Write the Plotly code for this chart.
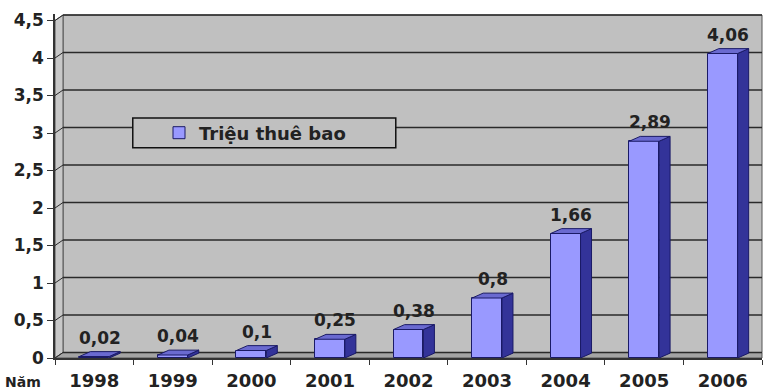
import plotly.graph_objects as go

# Mobile subscribers (millions) by year
years = ["1998", "1999", "2000", "2001", "2002", "2003", "2004", "2005", "2006"]
subscribers = [0.02, 0.04, 0.1, 0.25, 0.38, 0.8, 1.66, 2.89, 4.06]
y_ticks = [0, 0.5, 1, 1.5, 2, 2.5, 3, 3.5, 4, 4.5]
y_tick_text = ["0", "0,5", "1", "1,5", "2", "2,5", "3", "3,5", "4", "4,5"]
series_name = "Triệu thuê bao"
x_title = "Năm"

FONT = "DejaVu Sans"
INK = "#222222"
FRONT = "#9999FF"
SIDE = "#333399"
TOP = "#6A6AD0"
EDGE = "#1A1A66"
WALL = "#C0C0C0"
FLOOR = "#A4A4A4"

# pseudo-3D geometry (bar half width / depth in axis units, wall offset)
half = 0.19
depth_x = 0.14
depth_y = 0.065
wall_x = 8 / 707       # paper units
wall_y = 0.073         # y units
y_top = max(y_ticks)

pos = list(range(len(years)))


def fmt(v):
    return f"{v:g}".replace(".", ",")


fig = go.Figure()

# front faces
fig.add_trace(go.Bar(
    x=pos, y=subscribers, width=2 * half, name=series_name,
    marker=dict(color=FRONT, line=dict(color=EDGE, width=1)),
    showlegend=True,
))

# side and top faces
for i, v in zip(pos, subscribers):
    r = i + half
    l = i - half
    fig.add_trace(go.Scatter(
        x=[r, r + depth_x, r + depth_x, r, r],
        y=[0, depth_y, v + depth_y, v, 0],
        mode="lines", fill="toself", fillcolor=SIDE,
        line=dict(color=EDGE, width=1), showlegend=False, hoverinfo="skip",
    ))
    fig.add_trace(go.Scatter(
        x=[l, r, r + depth_x, l + depth_x, l],
        y=[v, v, v + depth_y, v + depth_y, v],
        mode="lines", fill="toself", fillcolor=TOP,
        line=dict(color=EDGE, width=1), showlegend=False, hoverinfo="skip",
    ))

shapes = []
# back wall
shapes.append(dict(type="rect", xref="paper", yref="y", x0=wall_x, x1=1,
                   y0=wall_y, y1=y_top + wall_y, fillcolor=WALL,
                   line=dict(color="#555555", width=1), layer="below"))
# left wall
shapes.append(dict(type="path", xref="paper", yref="y",
                   path=f"M 0,0 L {wall_x},{wall_y} L {wall_x},{y_top + wall_y} L 0,{y_top} Z",
                   fillcolor="#C8C8C8", line=dict(color="#555555", width=1), layer="below"))
# floor
shapes.append(dict(type="path", xref="paper", yref="y",
                   path=f"M 0,0 L {wall_x},{wall_y} L 1,{wall_y} L 1,0 Z",
                   fillcolor=FLOOR, line=dict(color="#555555", width=1), layer="below"))
# gridlines on the back wall plus their run across the left wall
for t in y_ticks:
    shapes.append(dict(type="line", xref="paper", yref="y", x0=wall_x, x1=1,
                       y0=t + wall_y, y1=t + wall_y,
                       line=dict(color="#2A2A2A", width=1.5), layer="below"))
    shapes.append(dict(type="line", xref="paper", yref="y", x0=0, x1=wall_x,
                       y0=t, y1=t + wall_y,
                       line=dict(color="#2A2A2A", width=1), layer="below"))
# legend frame
shapes.append(dict(type="rect", xref="paper", yref="paper", x0=0.110, x1=0.482,
                   y0=0.611, y1=0.698, fillcolor=WALL,
                   line=dict(color="#111111", width=1.5), layer="below"))

annotations = []
for i, v in zip(pos, subscribers):
    annotations.append(dict(
        x=i + depth_x / 2, y=v + depth_y, xref="x", yref="y",
        text=fmt(v), showarrow=False, yanchor="bottom", yshift=2,
        font=dict(family=FONT, size=17, color=INK, weight="bold"),
    ))
annotations.append(dict(
    x=0.0, y=0, xref="paper", yref="paper", xanchor="center", yanchor="top",
    xshift=-32, yshift=-14, text=x_title, showarrow=False,
    font=dict(family=FONT, size=14, color=INK, weight="bold"),
))

fig.update_layout(
    width=766, height=391,
    margin=dict(l=55, r=4, t=14, b=33, autoexpand=False),
    paper_bgcolor="white", plot_bgcolor="white",
    bargap=0,
    shapes=shapes, annotations=annotations,
    showlegend=True,
    legend=dict(x=(159 - 55) / 707, y=(358 - 133) / 344, xanchor="left", yanchor="middle",
                bgcolor="rgba(0,0,0,0)", borderwidth=0,
                font=dict(family=FONT, size=18, color=INK, weight="bold")),
    xaxis=dict(
        range=[-0.5, len(years) - 0.5], automargin=False,
        tickvals=pos, ticktext=years, ticks="",
        tickfont=dict(family=FONT, size=18, color=INK, weight="bold"),
        showgrid=False, zeroline=False, showline=True, linecolor="#333333", linewidth=1.5,
        minor=dict(ticks="outside", tick0=0.5, dtick=1, ticklen=5, tickcolor="#333333"),
        ticklabelstandoff=6,
    ),
    yaxis=dict(
        range=[0, (358 - 14) / 75], automargin=False,
        tickvals=y_ticks, ticktext=y_tick_text,
        ticks="outside", ticklen=6, tickcolor="#333333",
        tickfont=dict(family=FONT, size=17, color=INK, weight="bold"),
        showgrid=False, zeroline=False, showline=True, linecolor="#333333", linewidth=1.5,
    ),
)

fig.write_html("out.html")
